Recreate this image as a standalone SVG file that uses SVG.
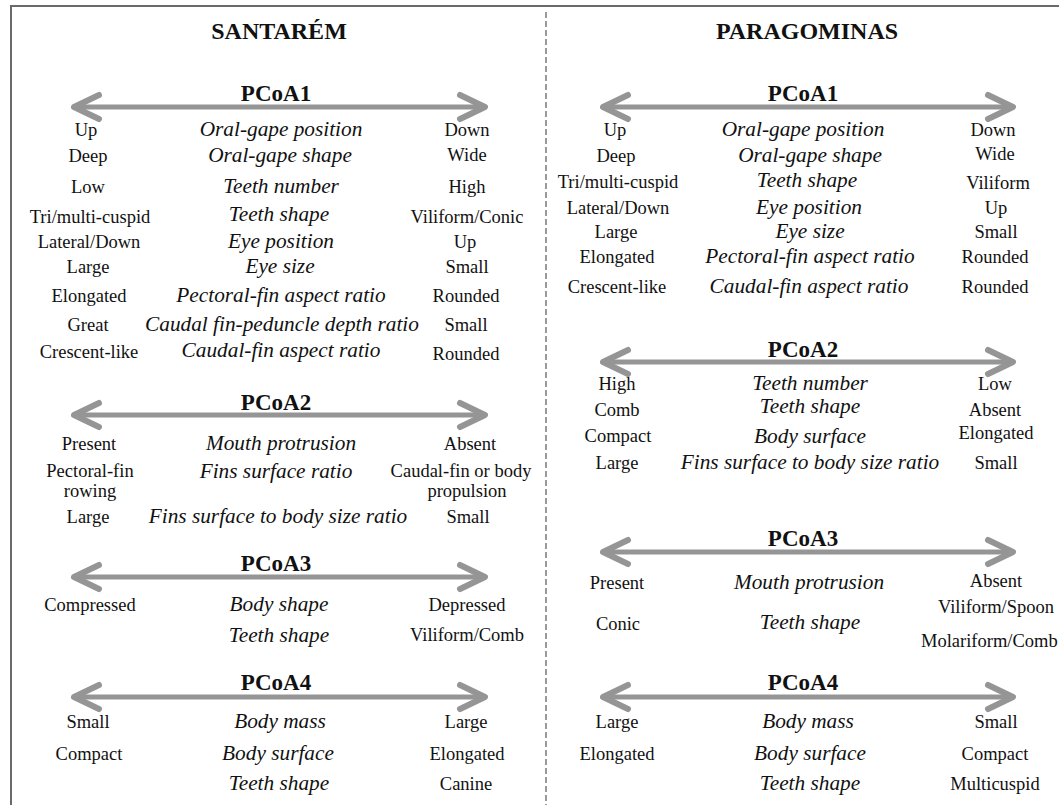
<svg xmlns="http://www.w3.org/2000/svg" width="1059" height="805" viewBox="0 0 1059 805">
<style>
text{font-family:"Liberation Serif","Times New Roman",serif;fill:#111;text-anchor:middle}
.t{font-size:24px;font-weight:bold}
.h{font-size:23px;font-weight:bold}
.v{font-size:18.5px}
.i{font-size:21.3px;font-style:italic}
.ax{stroke:#959595;stroke-width:5;fill:none}
.hd{stroke:#959595;stroke-width:6;fill:none;stroke-linecap:round;stroke-linejoin:round}
</style>
<defs>
<marker id="ah" markerUnits="userSpaceOnUse" markerWidth="40" markerHeight="40" refX="0" refY="0" orient="auto-start-reverse" overflow="visible">
<path class="hd" d="M-25,-12 L0,0 L-25,12"/>
</marker>
</defs>
<rect width="1059" height="805" fill="#fff"/>
<g id="frame">
<path d="M11,805 V6 H1059" fill="none" stroke="#6a6a6a" stroke-width="2"/>
<line x1="546" y1="12" x2="546" y2="805" stroke="#9a9a9a" stroke-width="2" stroke-dasharray="6 3"/>
</g>
<g id="connectors">
<line class="ax" x1="74" y1="107" x2="485" y2="107" marker-start="url(#ah)" marker-end="url(#ah)"/>
<line class="ax" x1="74" y1="415" x2="485" y2="415" marker-start="url(#ah)" marker-end="url(#ah)"/>
<line class="ax" x1="74" y1="577" x2="485" y2="577" marker-start="url(#ah)" marker-end="url(#ah)"/>
<line class="ax" x1="74" y1="697" x2="485" y2="697" marker-start="url(#ah)" marker-end="url(#ah)"/>
<line class="ax" x1="603" y1="107" x2="1013" y2="107" marker-start="url(#ah)" marker-end="url(#ah)"/>
<line class="ax" x1="603" y1="362" x2="1013" y2="362" marker-start="url(#ah)" marker-end="url(#ah)"/>
<line class="ax" x1="603" y1="552" x2="1013" y2="552" marker-start="url(#ah)" marker-end="url(#ah)"/>
<line class="ax" x1="603" y1="697" x2="1013" y2="697" marker-start="url(#ah)" marker-end="url(#ah)"/>
</g>
<g id="santarem">
<text class="t" x="279" y="39">SANTARÉM</text>
<g id="s-pcoa1">
<text class="h" x="276" y="101">PCoA1</text>
<text class="v" x="86" y="136">Up</text><text class="i" x="281" y="136">Oral-gape position</text><text class="v" x="467" y="136">Down</text>
<text class="v" x="88" y="162">Deep</text><text class="i" x="280" y="162">Oral-gape shape</text><text class="v" x="467" y="161">Wide</text>
<text class="v" x="88" y="193">Low</text><text class="i" x="281" y="193">Teeth number</text><text class="v" x="467" y="193">High</text>
<text class="v" x="90" y="223">Tri/multi-cuspid</text><text class="i" x="279" y="221">Teeth shape</text><text class="v" x="467" y="223">Viliform/Conic</text>
<text class="v" x="89" y="248">Lateral/Down</text><text class="i" x="281" y="248">Eye position</text><text class="v" x="465" y="248">Up</text>
<text class="v" x="88" y="273">Large</text><text class="i" x="280" y="273">Eye size</text><text class="v" x="467" y="273">Small</text>
<text class="v" x="89" y="302">Elongated</text><text class="i" x="281" y="302">Pectoral-fin aspect ratio</text><text class="v" x="466" y="302">Rounded</text>
<text class="v" x="88" y="331">Great</text><text class="i" x="282" y="331">Caudal fin-peduncle depth ratio</text><text class="v" x="466" y="331">Small</text>
<text class="v" x="89" y="358">Crescent-like</text><text class="i" x="281" y="357">Caudal-fin aspect ratio</text><text class="v" x="466" y="360">Rounded</text>
</g>
<g id="s-pcoa2">
<text class="h" x="276" y="410">PCoA2</text>
<text class="v" x="89" y="450">Present</text><text class="i" x="281" y="450">Mouth protrusion</text><text class="v" x="470" y="450">Absent</text>
<text class="v" x="90" y="477">Pectoral-fin</text><text class="v" x="90" y="497">rowing</text><text class="i" x="276" y="478">Fins surface ratio</text><text class="v" x="461" y="477">Caudal-fin or body</text><text class="v" x="467" y="497">propulsion</text>
<text class="v" x="88" y="523">Large</text><text class="i" x="278" y="523">Fins surface to body size ratio</text><text class="v" x="468" y="523">Small</text>
</g>
<g id="s-pcoa3">
<text class="h" x="276" y="571">PCoA3</text>
<text class="v" x="90" y="611">Compressed</text><text class="i" x="279" y="611">Body shape</text><text class="v" x="467" y="611">Depressed</text>
<text class="i" x="279" y="642">Teeth shape</text><text class="v" x="467" y="641">Viliform/Comb</text>
</g>
<g id="s-pcoa4">
<text class="h" x="276" y="690">PCoA4</text>
<text class="v" x="88" y="728">Small</text><text class="i" x="280" y="728">Body mass</text><text class="v" x="466" y="728">Large</text>
<text class="v" x="89" y="760">Compact</text><text class="i" x="278" y="760">Body surface</text><text class="v" x="467" y="760">Elongated</text>
<text class="i" x="279" y="790">Teeth shape</text><text class="v" x="466" y="790">Canine</text>
</g>
</g>
<g id="paragominas">
<text class="t" x="807" y="39">PARAGOMINAS</text>
<g id="p-pcoa1">
<text class="h" x="803" y="101">PCoA1</text>
<text class="v" x="615" y="136">Up</text><text class="i" x="803" y="136">Oral-gape position</text><text class="v" x="993" y="136">Down</text>
<text class="v" x="616" y="162">Deep</text><text class="i" x="810" y="162">Oral-gape shape</text><text class="v" x="995" y="160">Wide</text>
<text class="v" x="618" y="188">Tri/multi-cuspid</text><text class="i" x="807" y="187">Teeth shape</text><text class="v" x="998" y="189">Viliform</text>
<text class="v" x="618" y="214">Lateral/Down</text><text class="i" x="809" y="214">Eye position</text><text class="v" x="996" y="214">Up</text>
<text class="v" x="616" y="238">Large</text><text class="i" x="810" y="238">Eye size</text><text class="v" x="996" y="238">Small</text>
<text class="v" x="617" y="263">Elongated</text><text class="i" x="810" y="263">Pectoral-fin aspect ratio</text><text class="v" x="995" y="263">Rounded</text>
<text class="v" x="617" y="293">Crescent-like</text><text class="i" x="809" y="293">Caudal-fin aspect ratio</text><text class="v" x="995" y="293">Rounded</text>
</g>
<g id="p-pcoa2">
<text class="h" x="803" y="357">PCoA2</text>
<text class="v" x="617" y="390">High</text><text class="i" x="810" y="390">Teeth number</text><text class="v" x="995" y="390">Low</text>
<text class="v" x="617" y="416">Comb</text><text class="i" x="810" y="413">Teeth shape</text><text class="v" x="995" y="416">Absent</text>
<text class="v" x="618" y="442">Compact</text><text class="i" x="810" y="443">Body surface</text><text class="v" x="996" y="439">Elongated</text>
<text class="v" x="617" y="469">Large</text><text class="i" x="810" y="469">Fins surface to body size ratio</text><text class="v" x="996" y="469">Small</text>
</g>
<g id="p-pcoa3">
<text class="h" x="803" y="546">PCoA3</text>
<text class="v" x="617" y="589">Present</text><text class="i" x="809" y="589">Mouth protrusion</text><text class="v" x="996" y="587">Absent</text>
<text class="v" x="996" y="613">Viliform/Spoon</text>
<text class="v" x="618" y="630">Conic</text><text class="i" x="810" y="629">Teeth shape</text>
<text class="v" x="921" y="647" style="text-anchor:start">Molariform/Comb</text>
</g>
<g id="p-pcoa4">
<text class="h" x="803" y="690">PCoA4</text>
<text class="v" x="617" y="728">Large</text><text class="i" x="808" y="728">Body mass</text><text class="v" x="996" y="728">Small</text>
<text class="v" x="617" y="760">Elongated</text><text class="i" x="810" y="760">Body surface</text><text class="v" x="995" y="760">Compact</text>
<text class="i" x="810" y="790">Teeth shape</text><text class="v" x="995" y="790">Multicuspid</text>
</g>
</g>
</svg>
